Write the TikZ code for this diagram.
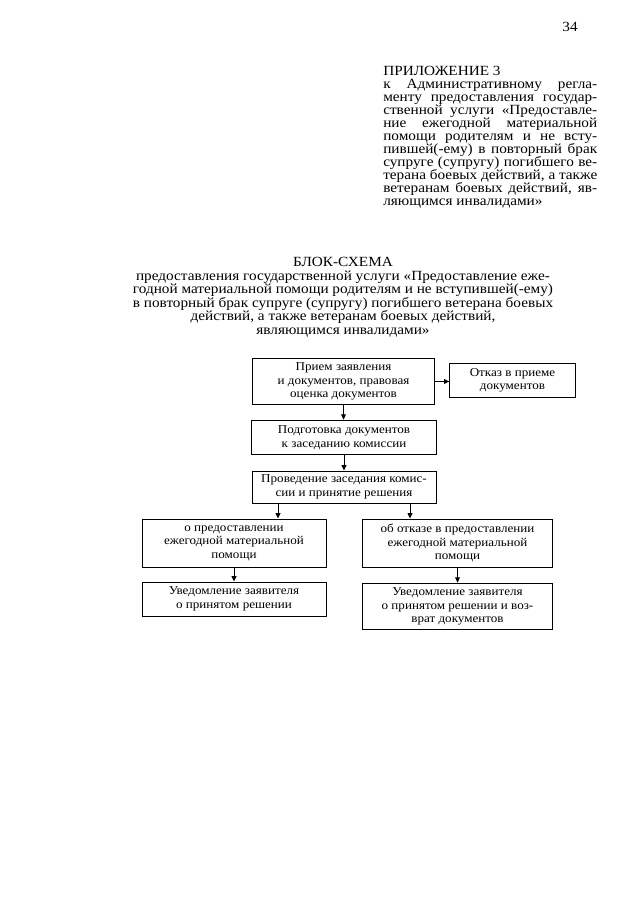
\documentclass[tikz,border=0pt]{standalone}
\usepackage{fontspec}
\setmainfont{Liberation Serif}[FakeStretch=1.09]
\usetikzlibrary{positioning, arrows.meta}
\newcommand{\jline}[1]{\makebox[160.5pt][s]{#1}}
\lineskiplimit=-100pt

\begin{document}
\begin{tikzpicture}[x=0.75pt, y=-0.75pt,
    blk/.style={rectangle, draw, line width=0.75pt, align=center, inner sep=0pt, font=\fontsize{9}{10.1}\selectfont},
    arr/.style={-{Triangle[length=4pt, width=3.6pt]}, line width=0.7pt},
    body/.style={inner sep=0pt, font=\fontsize{10.5}{9.75}\selectfont}]

    \path[fill=white, use as bounding box] (0,0) rectangle (640,905);

    \node[body] (page) at (570,27) {34};

    \node[body, anchor=north west, align=left] (app) at (383,66) {ПРИЛОЖЕНИЕ 3\\
      \jline{к Административному регла-}\\
      \jline{менту предоставления государ-}\\
      \jline{ственной услуги «Предоставле-}\\
      \jline{ние ежегодной материальной}\\
      \jline{помощи родителям и не всту-}\\
      \jline{пившей(-ему) в повторный брак}\\
      \jline{супруге (супругу) погибшего ве-}\\
      \jline{терана боевых действий, а также}\\
      \jline{ветеранам боевых действий, яв-}\\
      ляющимся инвалидами»};

    \node[body, anchor=north, align=center, font=\fontsize{10.5}{10.2}\selectfont] (title) at (343,257) {БЛОК-СХЕМА\\
      предоставления государственной услуги «Предоставление еже-\\
      годной материальной помощи родителям и не вступившей(-ему)\\
      в повторный брак супруге (супругу) погибшего ветерана боевых\\
      действий, а также ветеранам боевых действий,\\
      являющимся инвалидами»};

    \node[blk, minimum width=137pt, minimum height=35pt] (priem) at (343.5,381.5) {Прием заявления\\и документов, правовая\\оценка документов};
    \node[blk, minimum width=94pt, minimum height=26pt] (otkaz) at (512.5,380.5) {Отказ в приеме\\документов};
    \node[blk, minimum width=139pt, minimum height=26pt] (podg) at (344,437.5) {Подготовка документов\\к заседанию комиссии};
    \node[blk, minimum width=138pt, minimum height=24pt] (prov) at (344,487) {Проведение заседания комис-\\сии и принятие решения};
    \node[blk, minimum width=138pt, minimum height=36pt] (da) at (234,543) {о предоставлении\\ежегодной материальной\\помощи};
    \node[blk, minimum width=142pt, minimum height=36pt] (net) at (457.5,543) {об отказе в предоставлении\\ежегодной материальной\\помощи};
    \node[blk, minimum width=138pt, minimum height=25.5pt] (uvda) at (234,599) {Уведомление заявителя\\о принятом решении};
    \node[blk, minimum width=142pt, minimum height=35pt] (uvnet) at (457.5,606.5) {Уведомление заявителя\\о принятом решении и воз-\\врат документов};

    \coordinate (ld) at (278,0);
    \coordinate (rd) at (410,0);

    \draw[arr] (priem.east) -- (priem.east -| otkaz.west);
    \draw[arr] (priem.south) -- (priem.south |- podg.north);
    \draw[arr] (podg.south) -- (podg.south |- prov.north);
    \draw[arr] (prov.south -| ld) -- (da.north -| ld);
    \draw[arr] (prov.south -| rd) -- (net.north -| rd);
    \draw[arr] (da) -- (uvda);
    \draw[arr] (net) -- (uvnet);
  \end{tikzpicture}
\end{document}
